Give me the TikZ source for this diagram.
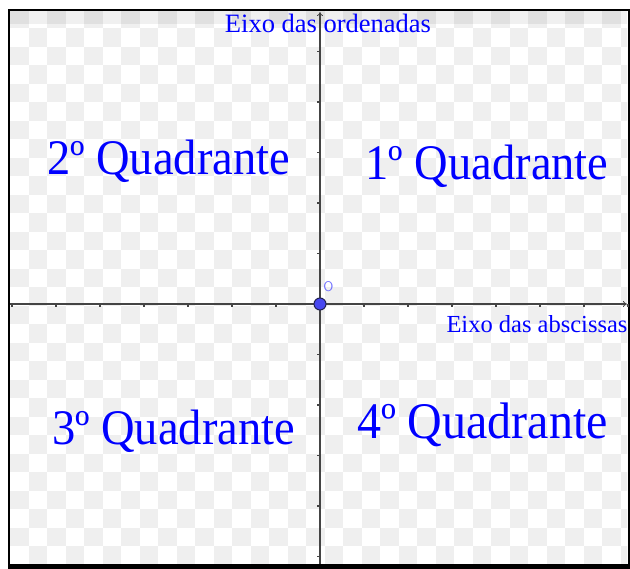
\documentclass[tikz,border=0pt]{standalone}
\usepackage{fontspec}
\setmainfont{Liberation Serif}
\usetikzlibrary{arrows.meta}
\definecolor{checkgray}{HTML}{EFEFEF}
\definecolor{axisgray}{HTML}{444444}
\definecolor{labelblue}{HTML}{0000FF}
\definecolor{lightblue}{HTML}{7070FF}
\definecolor{ptblue}{HTML}{4848F0}
\definecolor{ptedge}{HTML}{222255}
\newcommand{\tallq}[1]{\scalebox{1}[1.07]{#1}}
\tikzset{
  axisline/.style={draw=axisgray, line width=1.4pt},
  axisarrow/.style={axisline, -{To[length=4pt,width=6pt,line width=0.8pt]}},
  tickmark/.style={draw=axisgray, line width=1.2pt},
  quadlabel/.style={text=labelblue, inner sep=0pt, anchor=base, font=\fontsize{46.5}{50}\selectfont},
  axislabel/.style={text=labelblue, inner sep=0pt, anchor=base},
  checker/.style={fill=checkgray},
  frameline/.style={draw=black, line width=2pt},
}
\begin{document}
\begin{tikzpicture}[x=1pt,y=-1pt]
\useasboundingbox (0,0) rectangle (630,569);
\fill[white] (0,0) rectangle (630,569);
% checkerboard background
\begin{scope}
  \clip (10,11) rectangle (627,564);
  \foreach \i in {0,...,33}{
    \pgfmathtruncatemacro\off{mod(\i,2)}
    \foreach \j in {0,2,...,30}{
      \fill[checker] ({10+\i*18.5},{10+(\j+\off)*18.5}) rectangle ++(18.5,18.5);
    }
  }
  \fill[black, opacity=0.06] (10,11) rectangle (627,24);
\end{scope}
% frame
\draw[frameline] (9,10) -- (628.5,10) -- (628.5,566) -- (9,566) -- cycle;
\fill[black] (8,564) rectangle (630,569);
% axes coordinates
\coordinate (xl) at (10,304);
\coordinate (xr) at (627,304);
\coordinate (yb) at (320,564);
\coordinate (yt) at (320,12);
% ticks on x-axis
\foreach \k in {-7,...,-1,1,2,...,7}{
  \draw[tickmark] ({320+44*\k},304) -- ++(0,3.2);
}
% ticks on y-axis
\foreach \k in {-5,...,-1,1,2,...,5}{
  \draw[tickmark] (320,{304+50.5*\k}) -- ++(-3.2,0);
}
\draw[axisarrow] (xl) -- (xr);
\draw[axisarrow] (yb) -- (yt);
% origin
\node[circle, fill=ptblue, draw=ptedge, line width=1pt, minimum size=12pt, inner sep=0pt] (origin) at (320,304) {};
\node[text=lightblue, inner sep=0pt, font=\sffamily\fontsize{14}{14}\selectfont] (olabel) at (328.5,287) {O};
% axis labels
\node[axislabel, font=\fontsize{26.5}{28}\selectfont] (ylab) at (328,33) {Eixo das ordenadas};
\node[axislabel, font=\fontsize{24.5}{26}\selectfont] (xlab) at (537,333) {Eixo das abscissas};
% quadrant labels
\node[quadlabel] (q1) at (487,180) {\tallq{1º Quadrante}};
\node[quadlabel] (q2) at (168.5,175) {\tallq{2º Quadrante}};
\node[quadlabel] (q3) at (173.5,445) {\tallq{3º Quadrante}};
\node[quadlabel, font=\fontsize{48}{50}\selectfont] (q4) at (482.5,439) {\tallq{4º Quadrante}};
\end{tikzpicture}
\end{document}
